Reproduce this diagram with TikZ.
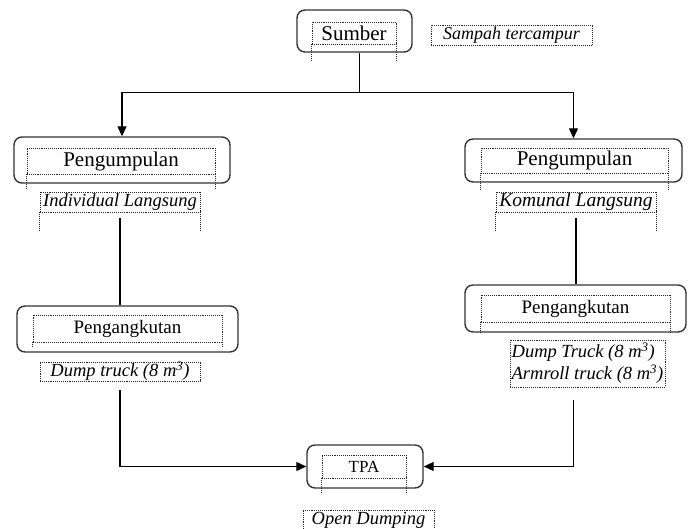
\documentclass[tikz,border=0pt]{standalone}
\usepackage{fontspec}
\setmainfont{Liberation Serif}
\usetikzlibrary{arrows.meta,calc}

\begin{document}
\begin{tikzpicture}[x=1pt,y=-1pt,
    box/.style={draw=black!80, line width=1.4pt, rounded corners=8pt},
    frame/.style={draw=black!85, densely dotted, line width=0.9pt, inner sep=0pt},
    title/.style={frame, font=\fontsize{#1}{24}\selectfont},
    note/.style={frame, font=\fontsize{18.5}{22}\selectfont\itshape},
    link/.style={line width=1.2pt},
    arrow/.style={link, -{Triangle[length=10pt,width=9pt]}}]
  \useasboundingbox (0,0) rectangle (689,529);

  % sumber
  \node[box, minimum width=115pt, minimum height=42pt] (sumber) at (354.5,31) {};
  \node[title=21, minimum width=84pt, minimum height=22pt] (sumberTxt) at (354,33) {Sumber};
  \draw[frame] (sumberTxt.south west) -- ++(0,16) (sumberTxt.south east) -- ++(0,16);
  \node[note, font=\fontsize{18}{22}\selectfont\itshape, minimum width=161pt, minimum height=20pt] (sampah) at (511.5,35) {Sampah tercampur};

  % pengumpulan kiri
  \node[box, minimum width=216pt, minimum height=46pt] (kumpulL) at (122,160) {};
  \node[title=21, minimum width=188pt, minimum height=26pt] (kumpulLTxt) at (121,161) {Pengumpulan};
  \draw[frame] (kumpulLTxt.south west) -- ++(0,14) (kumpulLTxt.south east) -- ++(0,14);
  \node[note, minimum width=160pt, minimum height=20pt] (individu) at (120,202) {Individual Langsung};
  \draw[frame] (individu.south west) -- ++(0,18) (individu.south east) -- ++(0,18);

  % pengumpulan kanan
  \node[box, minimum width=217pt, minimum height=43pt] (kumpulR) at (573.5,160.5) {};
  \node[title=21, minimum width=187pt, minimum height=25pt] (kumpulRTxt) at (574.5,160.5) {Pengumpulan};
  \draw[frame] (kumpulRTxt.south west) -- ++(0,17) (kumpulRTxt.south east) -- ++(0,17);
  \node[note, font=\fontsize{19.5}{22}\selectfont\itshape, minimum width=160pt, minimum height=20pt] (komunal) at (576,202) {Komunal Langsung};
  \draw[frame] (komunal.south west) -- ++(0,18) (komunal.south east) -- ++(0,18);

  % pengangkutan kiri
  \node[box, minimum width=221pt, minimum height=46pt] (angkutL) at (127.5,329) {};
  \node[title=19, minimum width=189pt, minimum height=27pt] (angkutLTxt) at (127.5,328.5) {Pengangkutan};
  \draw[frame] (angkutLTxt.south west) -- ++(0,4) (angkutLTxt.south east) -- ++(0,4);
  \node[note, minimum width=160pt, minimum height=19pt] (dumpL) at (120,371.5) {Dump truck (8 m\textsuperscript{3})};

  % pengangkutan kanan
  \node[box, minimum width=221pt, minimum height=47pt] (angkutR) at (575.5,308.5) {};
  \node[title=19, minimum width=189pt, minimum height=27pt] (angkutRTxt) at (575.5,308.5) {Pengangkutan};
  \draw[frame] (angkutRTxt.south west) -- ++(0,10) (angkutRTxt.south east) -- ++(0,10);
  \node[note, align=left, minimum width=155pt, minimum height=47pt] (truckR) at (587.5,363.5)
    {Dump Truck (8 m\textsuperscript{3})\\Armroll truck (8 m\textsuperscript{3})};

  % tpa
  \node[box, minimum width=116pt, minimum height=43pt] (tpa) at (365,466.5) {};
  \node[title=17, minimum width=84pt, minimum height=23pt] (tpaTxt) at (364,466.5) {TPA};
  \draw[frame] (tpaTxt.south west) -- ++(0,14) (tpaTxt.south east) -- ++(0,14);
  \node[note, minimum width=131pt, minimum height=20pt] (openDump) at (368.5,520) {Open Dumping};

  % connectors
  \draw[link] ($(sumber.south)+(5,0)$) -- ++(0,40) coordinate (cabang);
  \draw[arrow] (cabang) -| (kumpulL.north);
  \draw[arrow] (cabang) -| (kumpulR.north);
  \draw[link] ($(individu.south)+(0,6)$) -- (individu.south |- angkutL.north);
  \draw[link] ($(komunal.south)+(0,6)$) -- (komunal.south |- angkutR.north);
  \draw[arrow] ($(dumpL.south)+(0,9)$) |- (tpa.west);
  \draw[arrow] ($(angkutR.south |- truckR.south)+(-2,13)$) |- (tpa.east);
\end{tikzpicture}
\end{document}
